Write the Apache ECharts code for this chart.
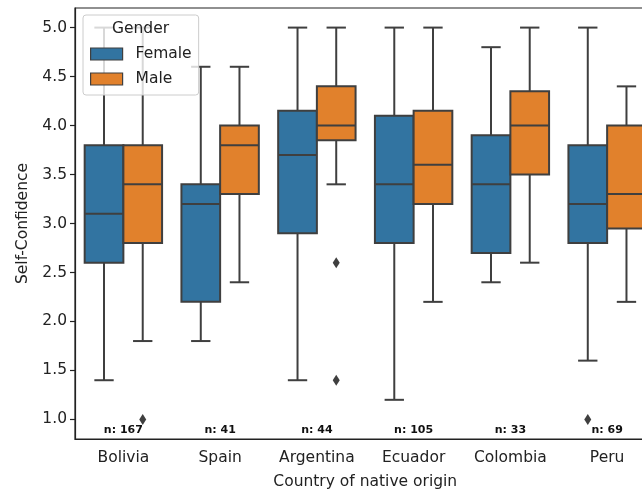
<!DOCTYPE html>
<html><head><meta charset="utf-8">
<script src="https://cdn.jsdelivr.net/npm/echarts@6/dist/echarts.min.js"></script>
<style>html,body{margin:0;padding:0;background:#fff}#c{width:642px;height:491px}</style>
</head><body><div id="c"></div>
<script>
const categories = ['Bolivia','Spain','Argentina','Ecuador','Colombia','Peru'];
const counts = [167, 41, 44, 105, 33, 69];
const yTicks = [1.0, 1.5, 2.0, 2.5, 3.0, 3.5, 4.0, 4.5, 5.0];

const femaleLow  = [1.4, 1.8, 1.4, 1.2, 2.4, 1.6];
const femaleQ1   = [2.6, 2.2, 2.9, 2.8, 2.7, 2.8];
const femaleMed  = [3.1, 3.2, 3.7, 3.4, 3.4, 3.2];
const femaleQ3   = [3.8, 3.4, 4.15, 4.1, 3.9, 3.8];
const femaleHigh = [5.0, 4.6, 5.0, 5.0, 4.8, 5.0];

const maleLow  = [1.8, 2.4, 3.4, 2.2, 2.6, 2.2];
const maleQ1   = [2.8, 3.3, 3.85, 3.2, 3.5, 2.95];
const maleMed  = [3.4, 3.8, 4.0, 3.6, 4.0, 3.3];
const maleQ3   = [3.8, 4.0, 4.4, 4.15, 4.35, 4.0];
const maleHigh = [5.0, 4.6, 5.0, 5.0, 5.0, 4.4];

const femaleOutliers = [[5, 1.0]];
const maleOutliers = [[0, 1.0], [2, 2.6], [2, 1.4]];

const nLabelY = 0.89;

const BLUE = '#3274a1', ORANGE = '#e1812c', EDGE = '#3f3f3f', TXT = '#222';
const FONT = 'DejaVu Sans';

function boxData(lo, q1, med, q3, hi) {
  return categories.map((c, i) => [i, lo[i], q1[i], med[i], q3[i], hi[i]]);
}

function boxRenderer(offset, fill) {
  return function (params, api) {
    const i = api.value(0);
    const band = api.size([1, 0])[0];
    const cx = api.coord([i, 0])[0] + offset * band;
    const w = 0.4 * band;
    const y = k => api.coord([i, api.value(k)])[1];
    const yLo = y(1), yQ1 = y(2), yMed = y(3), yQ3 = y(4), yHi = y(5);
    const ls = { stroke: EDGE, lineWidth: 2 };
    const cap = w / 4;
    return {
      type: 'group',
      children: [
        { type: 'line', shape: { x1: cx, y1: yQ1, x2: cx, y2: yLo }, style: ls },
        { type: 'line', shape: { x1: cx, y1: yQ3, x2: cx, y2: yHi }, style: ls },
        { type: 'line', shape: { x1: cx - cap, y1: yLo, x2: cx + cap, y2: yLo }, style: ls },
        { type: 'line', shape: { x1: cx - cap, y1: yHi, x2: cx + cap, y2: yHi }, style: ls },
        { type: 'rect', shape: { x: cx - w / 2, y: yQ3, width: w, height: yQ1 - yQ3 }, style: { fill: fill, stroke: EDGE, lineWidth: 2 } },
        { type: 'line', shape: { x1: cx - w / 2, y1: yMed, x2: cx + w / 2, y2: yMed }, style: ls }
      ]
    };
  };
}

function outlierRenderer(offset) {
  return function (params, api) {
    const i = api.value(0);
    const band = api.size([1, 0])[0];
    const p = api.coord([i, api.value(1)]);
    const cx = p[0] + offset * band, cy = p[1];
    return {
      type: 'polygon',
      shape: { points: [[cx, cy - 5.5], [cx + 3.5, cy], [cx, cy + 5.5], [cx - 3.5, cy]] },
      style: { fill: EDGE }
    };
  };
}

const chart = echarts.init(document.getElementById('c'));
chart.setOption({
  animation: false,
  textStyle: { fontFamily: FONT },
  grid: { left: 75, top: 8, width: 580.5, bottom: 52, outerBoundsMode: 'none', containLabel: false,
    show: true, borderColor: '#222', borderWidth: 1.2, backgroundColor: 'transparent' },
  legend: {
    left: 83, top: 15, orient: 'vertical',
    padding: [30, 7, 7, 7],
    itemWidth: 32, itemHeight: 12, itemGap: 7,
    icon: 'rect',
    backgroundColor: 'rgba(255,255,255,0.8)', borderColor: '#cccccc', borderWidth: 1, borderRadius: 3,
    itemStyle: { borderColor: EDGE, borderWidth: 1.2 },
    textStyle: { fontFamily: FONT, fontSize: 15.5, color: TXT, lineHeight: 18, padding: [0, 0, 0, 8] },
    data: ['Female', 'Male']
  },
  graphic: [{
    type: 'text', left: 112, top: 21, z: 200, zlevel: 0,
    style: { text: 'Gender', font: '15.5px "DejaVu Sans"', fill: TXT }
  }],
  xAxis: {
    type: 'category', data: categories,
    name: 'Country of native origin', nameLocation: 'middle', nameGap: 35,
    nameTextStyle: { fontFamily: FONT, fontSize: 15.5, color: TXT },
    axisLine: { lineStyle: { color: '#222', width: 1.2 } },
    axisTick: { alignWithLabel: true, length: 5, lineStyle: { color: '#222', width: 1.2 } },
    axisLabel: { fontFamily: FONT, fontSize: 15.5, color: TXT, margin: 11, interval: 0 },
    splitLine: { show: false }
  },
  yAxis: {
    type: 'value', min: 0.8, max: 5.2,
    name: 'Self-Confidence', nameLocation: 'middle', nameGap: 44, nameRotate: 90,
    nameTextStyle: { fontFamily: FONT, fontSize: 15.5, color: TXT },
    axisLine: { show: true, lineStyle: { color: '#222', width: 1.2 } },
    axisTick: { show: true, length: 5, customValues: yTicks, lineStyle: { color: '#222', width: 1.2 } },
    axisLabel: { fontFamily: FONT, fontSize: 15.5, color: TXT, margin: 8, customValues: yTicks, formatter: v => v.toFixed(1) },
    splitLine: { show: false }
  },
  series: [
    { name: 'Female', type: 'custom', itemStyle: { color: BLUE }, renderItem: boxRenderer(-0.2, BLUE),
      encode: { x: 0, y: [1, 2, 3, 4, 5] }, data: boxData(femaleLow, femaleQ1, femaleMed, femaleQ3, femaleHigh) },
    { name: 'Male', type: 'custom', itemStyle: { color: ORANGE }, renderItem: boxRenderer(0.2, ORANGE),
      encode: { x: 0, y: [1, 2, 3, 4, 5] }, data: boxData(maleLow, maleQ1, maleMed, maleQ3, maleHigh) },
    { name: 'FemaleOut', type: 'custom', renderItem: outlierRenderer(-0.2), encode: { x: 0, y: 1 }, data: femaleOutliers },
    { name: 'MaleOut', type: 'custom', renderItem: outlierRenderer(0.2), encode: { x: 0, y: 1 }, data: maleOutliers },
    { name: 'counts', type: 'custom', encode: { x: 0, y: 1 },
      data: counts.map((n, i) => [i, nLabelY, n]),
      renderItem: function (params, api) {
        const p = api.coord([api.value(0), api.value(1)]);
        return { type: 'text', x: p[0], y: p[1],
          style: { text: 'n: ' + api.value(2), font: 'bold 11px "DejaVu Sans"', fill: '#111', align: 'center', verticalAlign: 'middle' } };
      } }
  ]
});
</script>
</body></html>
